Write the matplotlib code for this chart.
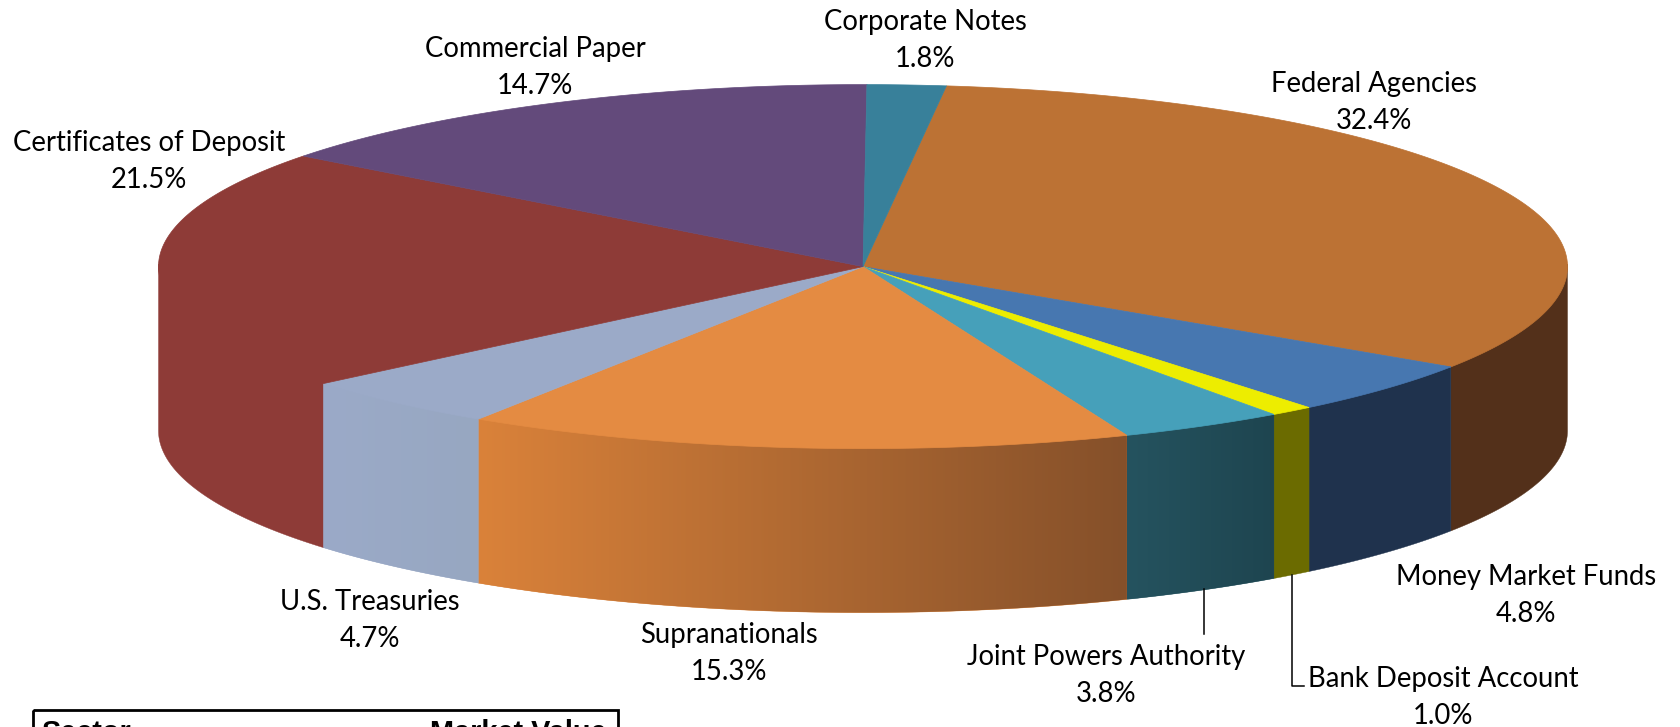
import numpy as np
import matplotlib
matplotlib.use("Agg")
import matplotlib.pyplot as plt
from matplotlib.colors import to_rgb
from matplotlib.patches import Rectangle, Polygon

sectors = ["Federal Agencies", "Money Market Funds", "Bank Deposit Account",
           "Joint Powers Authority", "Supranationals", "U.S. Treasuries",
           "Certificates of Deposit", "Commercial Paper", "Corporate Notes"]
shares = [32.4, 4.8, 1.0, 3.8, 15.3, 4.7, 21.5, 14.7, 1.8]
top_colors = ["#BC7234", "#4777B0", "#EDED00", "#46A0BA", "#E48B42",
              "#9BAAC8", "#8E3B37", "#634A7B", "#38809A"]
side_left = ["#53301A", "#1F324D", "#6B6B00", "#25535F", "#DA823A",
             "#9BAAC8", "#8E3B37", "#634A7B", "#38809A"]
side_right = ["#53301A", "#1F324D", "#6B6B00", "#1E4550", "#85502A",
              "#97A7C1", "#8E3B37", "#634A7B", "#38809A"]

# Layout (pixels)
CX, CY, A, B, DEPTH = 863, 266.6, 704.5, 182, 164
START_DEG = 6.8
WALL_OVERLAP = 2.5
LABEL_POS = {
    "Federal Agencies": (1374, 84), "Money Market Funds": (1526, 577),
    "Bank Deposit Account": (1443, 679), "Joint Powers Authority": (1106, 657),
    "Supranationals": (729, 635), "U.S. Treasuries": (370, 602),
    "Certificates of Deposit": (149, 143), "Commercial Paper": (535, 49),
    "Corporate Notes": (925, 22),
}
LINE_GAP = 37
FONT = "Lato"
FS = 19.8

fig = plt.figure(figsize=(16.8, 7.27), dpi=100, facecolor="white")
ax = fig.add_axes([0, 0, 1, 1])
ax.axis("off")


def px(theta):
    return CX + A * np.sin(np.radians(theta))


def py(theta):
    return CY - B * np.cos(np.radians(theta))


edges = START_DEG + np.concatenate([[0], np.cumsum(shares)]) * 3.6

# Side wall: front half only, a horizontal colour ramp clipped to each slice's wall.
# Each wall starts slightly under the top face so no seam shows between them.
for i in range(len(shares)):
    a0, a1 = max(edges[i], 90), min(edges[i + 1], 270)
    if a0 >= a1:
        continue
    tt = np.linspace(a0, a1, 200)
    xs, ys = px(tt), py(tt)
    wall = Polygon(np.c_[np.r_[xs, xs[::-1]], np.r_[ys - WALL_OVERLAP, ys[::-1] + DEPTH]],
                   closed=True, fc=side_left[i], ec=side_left[i], lw=0.3, zorder=2)
    ax.add_patch(wall)
    if side_left[i] != side_right[i]:
        cl, cr = np.array(to_rgb(side_left[i])), np.array(to_rgb(side_right[i]))
        ramp = np.linspace(cl, cr, 256)[None, :, :]
        im = ax.imshow(ramp, extent=(xs.min(), xs.max(), ys.max() + DEPTH, ys.min() - WALL_OVERLAP),
                       aspect="auto", interpolation="bilinear", zorder=2.1)
        im.set_clip_path(wall)

ax.set_xlim(0, 1680)
ax.set_ylim(727, 0)

# Top face
for i in range(len(shares)):
    tt = np.linspace(edges[i], edges[i + 1], 200)
    ax.fill(np.r_[CX, px(tt)], np.r_[CY, py(tt)], color=top_colors[i],
            lw=0.5, ec=top_colors[i], zorder=3)

# Labels
for name, val in zip(sectors, shares):
    x, y = LABEL_POS[name]
    ax.text(x, y, name, ha="center", va="center", fontsize=FS, family=FONT, color="black", zorder=5)
    ax.text(x, y + LINE_GAP, f"{val:.1f}%", ha="center", va="center", fontsize=FS,
            family=FONT, color="black", zorder=5)

# Leader lines
ax.plot([1203.6, 1203.6], [589, 634], color="black", lw=1.1, zorder=4)
ax.plot([1291.5, 1291.5, 1304], [575, 686, 686], color="black", lw=1.1, zorder=4)

# Table top, cut off by the bottom edge of the picture
ax.add_patch(Rectangle((33, 710), 585, 40, fill=False, ec="black", lw=2.0, zorder=6))
ax.text(41, 741, "Sector", ha="left", va="baseline", fontsize=20.8, fontweight="bold",
        family="Liberation Sans", zorder=6)
ax.text(607, 741, "Market Value", ha="right", va="baseline", fontsize=20.8, fontweight="bold",
        family="Liberation Sans", zorder=6)

fig.savefig("out.png", dpi=100)
